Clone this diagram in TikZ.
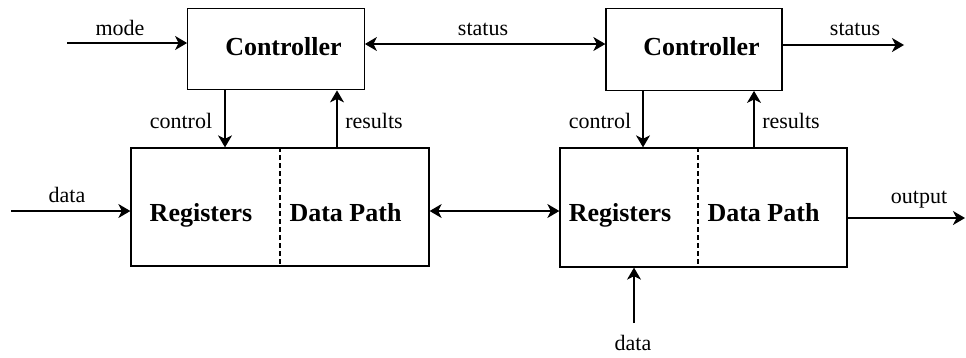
\documentclass[tikz,border=0pt]{standalone}
\usepackage{fontspec}
\setmainfont{Liberation Serif}
\usetikzlibrary{arrows.meta}
\begin{document}
\begin{tikzpicture}[x=1pt,y=-1pt,
  box/.style={draw, line width=1.3pt, inner sep=0pt},
  title/.style={font=\fontsize{26}{29}\selectfont\bfseries, inner sep=0pt, anchor=base},
  lbl/.style={font=\fontsize{22}{25}\selectfont, inner sep=0pt, anchor=base},
  conn/.style={line width=1.2pt, -{Stealth[length=12pt,width=14pt,inset=3.5pt]}},
  biconn/.style={line width=1.2pt, {Stealth[length=12pt,width=14pt,inset=3.5pt]}-{Stealth[length=12pt,width=14pt,inset=3.5pt]}},
  divider/.style={line width=1.1pt, dash pattern=on 5pt off 3pt}]
\useasboundingbox (0,0) rectangle (966,357);

% controllers
\node[box, minimum width=176.5pt, minimum height=81.5pt] (c1) at (276,49) {};
\node[box, minimum width=176pt, minimum height=81.5pt] (c2) at (694,49.5) {};
\node[title] (c1t) at (283.5,55) {Controller};
\node[title] (c2t) at (701.5,55) {Controller};

% register / data path blocks
\node[box, minimum width=298pt, minimum height=118pt] (rd1) at (280,207) {};
\node[box, minimum width=287pt, minimum height=119pt] (rd2) at (703.5,207.5) {};
\draw[divider] (rd1.north -| 280,0) -- (rd1.south -| 280,0);
\draw[divider] (rd2.north -| 698,0) -- (rd2.south -| 698,0);
\node[title] (r1) at (201,221) {Registers};
\node[title] (d1) at (345.5,221) {Data Path};
\node[title] (r2) at (620,221) {Registers};
\node[title] (d2) at (763.5,221) {Data Path};

% free ends
\coordinate (modein) at (67,43);
\coordinate (datain) at (11,211);
\coordinate (statout) at (904,45);
\coordinate (outend) at (965,218);
\coordinate (datab) at (634,323);

% connectors
\draw[conn] (modein) -- (modein -| c1.west);
\draw[biconn] (c1.east |- 0,44) -- (c2.west |- 0,44);
\draw[conn] (c2.east |- statout) -- (statout);
\draw[conn] (c1.south -| 225,0) -- (rd1.north -| 225,0);
\draw[conn] (rd1.north -| 337,0) -- (c1.south -| 337,0);
\draw[conn] (c2.south -| 643,0) -- (rd2.north -| 643,0);
\draw[conn] (rd2.north -| 754,0) -- (c2.south -| 754,0);
\draw[conn] (datain) -- (datain -| rd1.west);
\draw[biconn] (rd1.east |- 0,211) -- (rd2.west |- 0,211);
\draw[conn] (rd2.east |- outend) -- (outend);
\draw[conn] (datab) -- (datab |- rd2.south);

% labels
\node[lbl] (lmode) at (120,35) {mode};
\node[lbl] (lstat1) at (483,35) {status};
\node[lbl] (lstat2) at (855,35) {status};
\node[lbl] (lctl1) at (181,128) {control};
\node[lbl] (lres1) at (374,128) {results};
\node[lbl] (lctl2) at (600,128) {control};
\node[lbl] (lres2) at (791,128) {results};
\node[lbl] (ldata1) at (67,202) {data};
\node[lbl] (lout) at (919,203) {output};
\node[lbl] (ldata2) at (633,350) {data};
\end{tikzpicture}
\end{document}
